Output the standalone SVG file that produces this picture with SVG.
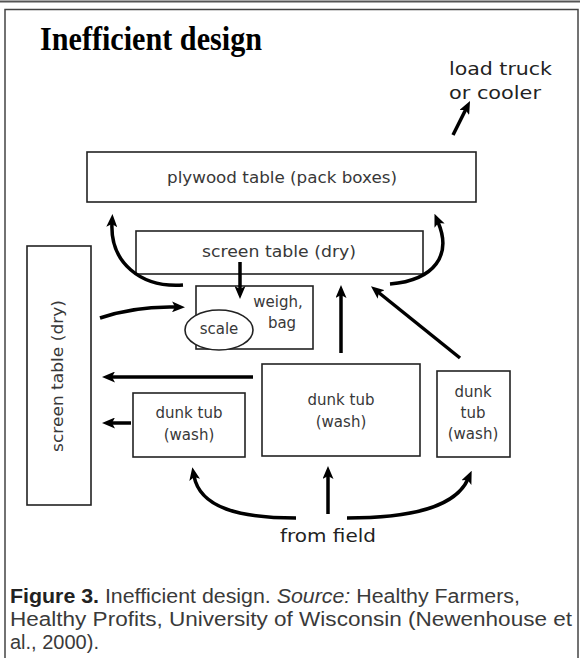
<svg xmlns="http://www.w3.org/2000/svg" width="580" height="658" viewBox="0 0 580 658">
<style>
.box{fill:#fff;stroke:#222;stroke-width:1.6}
.hand{font-family:"DejaVu Sans",sans-serif;font-size:15px;fill:#383838;text-anchor:middle}
.hand2{font-family:"DejaVu Sans",sans-serif;font-size:17px;fill:#222}
.arr{fill:none;stroke:#000;stroke-width:3.5;stroke-linecap:butt}
.cap{font-family:"Liberation Sans",Arial,sans-serif;font-size:20px;fill:#3a3a3a}
</style>
<defs>
<marker id="ah" viewBox="0 0 13 11" refX="4" refY="5.5" markerWidth="13" markerHeight="11" markerUnits="userSpaceOnUse" orient="auto">
<path d="M0,0 L13,5.5 L0,11 L3,5.5 z" fill="#000"/>
</marker>
</defs>
<rect width="580" height="658" fill="#fff"/>
<line x1="0" y1="1.5" x2="580" y2="1.5" stroke="#555" stroke-width="2"/>
<rect x="5" y="9.5" width="573" height="660" fill="none" stroke="#444" stroke-width="1.5"/>
<text x="40" y="50" font-family="Liberation Serif,serif" font-weight="bold" font-size="33" fill="#000" textLength="222" lengthAdjust="spacingAndGlyphs">Inefficient design</text>

<g id="load">
<text class="hand2" x="449" y="75" textLength="103" lengthAdjust="spacingAndGlyphs">load truck</text>
<text class="hand2" x="449" y="99" textLength="92" lengthAdjust="spacingAndGlyphs">or cooler</text>
</g>
<g id="plywood">
<rect class="box" x="87" y="152" width="389" height="50"/>
<text class="hand" x="282" y="183" textLength="230" lengthAdjust="spacingAndGlyphs">plywood table (pack boxes)</text>
</g>
<g id="screen-h">
<rect class="box" x="136" y="231" width="287" height="43"/>
<text class="hand" x="279" y="257" textLength="154" lengthAdjust="spacingAndGlyphs">screen table (dry)</text>
</g>
<g id="screen-v">
<rect class="box" x="27" y="246" width="64" height="259"/>
<text class="hand" transform="translate(63,376) rotate(-90)" x="0" y="0" textLength="152" lengthAdjust="spacingAndGlyphs">screen table (dry)</text>
</g>
<g id="weigh">
<rect class="box" x="196" y="286" width="117" height="63"/>
<text class="hand" x="278" y="307">weigh,</text>
<text class="hand" x="282" y="328">bag</text>
</g>
<g id="scale">
<ellipse class="box" cx="219" cy="330" rx="34" ry="20"/>
<text class="hand" x="219" y="334">scale</text>
</g>
<g id="tub-left">
<rect class="box" x="133" y="393" width="112" height="64"/>
<text class="hand" x="189" y="418">dunk tub</text>
<text class="hand" x="189" y="440">(wash)</text>
</g>
<g id="tub-center">
<rect class="box" x="262" y="364" width="158" height="92"/>
<text class="hand" x="341" y="405">dunk tub</text>
<text class="hand" x="341" y="427">(wash)</text>
</g>
<g id="tub-right">
<rect class="box" x="437" y="371" width="73" height="86"/>
<text class="hand" x="473" y="397">dunk</text>
<text class="hand" x="473" y="418">tub</text>
<text class="hand" x="473" y="439">(wash)</text>
</g>
<g id="field">
<text class="hand2" x="328" y="542" text-anchor="middle" textLength="96" lengthAdjust="spacingAndGlyphs">from field</text>
</g>

<g id="connectors" marker-end="url(#ah)">
<path class="arr" d="M453,135 L466,109"/>
<path class="arr" d="M240,262 L240,290"/>
<path class="arr" d="M183,285 C140,288 110,262 112,223"/>
<path class="arr" d="M390,284 C435,280 452,255 438,222"/>
<path class="arr" d="M100,318 Q135,306 176,307"/>
<path class="arr" d="M341,353 L341,294"/>
<path class="arr" d="M460,358 L378,292"/>
<path class="arr" d="M253,377 L111,377"/>
<path class="arr" d="M131,423 L111,423"/>
<path class="arr" d="M296,518 C240,518 200,508 194,476"/>
<path class="arr" d="M328,514 L328,475"/>
<path class="arr" d="M347,518 C410,518 455,508 468,479"/>
</g>

<g id="caption">
<text class="cap" x="10" y="603" textLength="510" lengthAdjust="spacingAndGlyphs"><tspan font-weight="bold" fill="#222">Figure 3.</tspan> Inefficient design. <tspan font-style="italic">Source:</tspan> Healthy Farmers,</text>
<text class="cap" x="10" y="626" textLength="562" lengthAdjust="spacingAndGlyphs">Healthy Profits, University of Wisconsin (Newenhouse et</text>
<text class="cap" x="10" y="649">al., 2000).</text>
</g>
</svg>
